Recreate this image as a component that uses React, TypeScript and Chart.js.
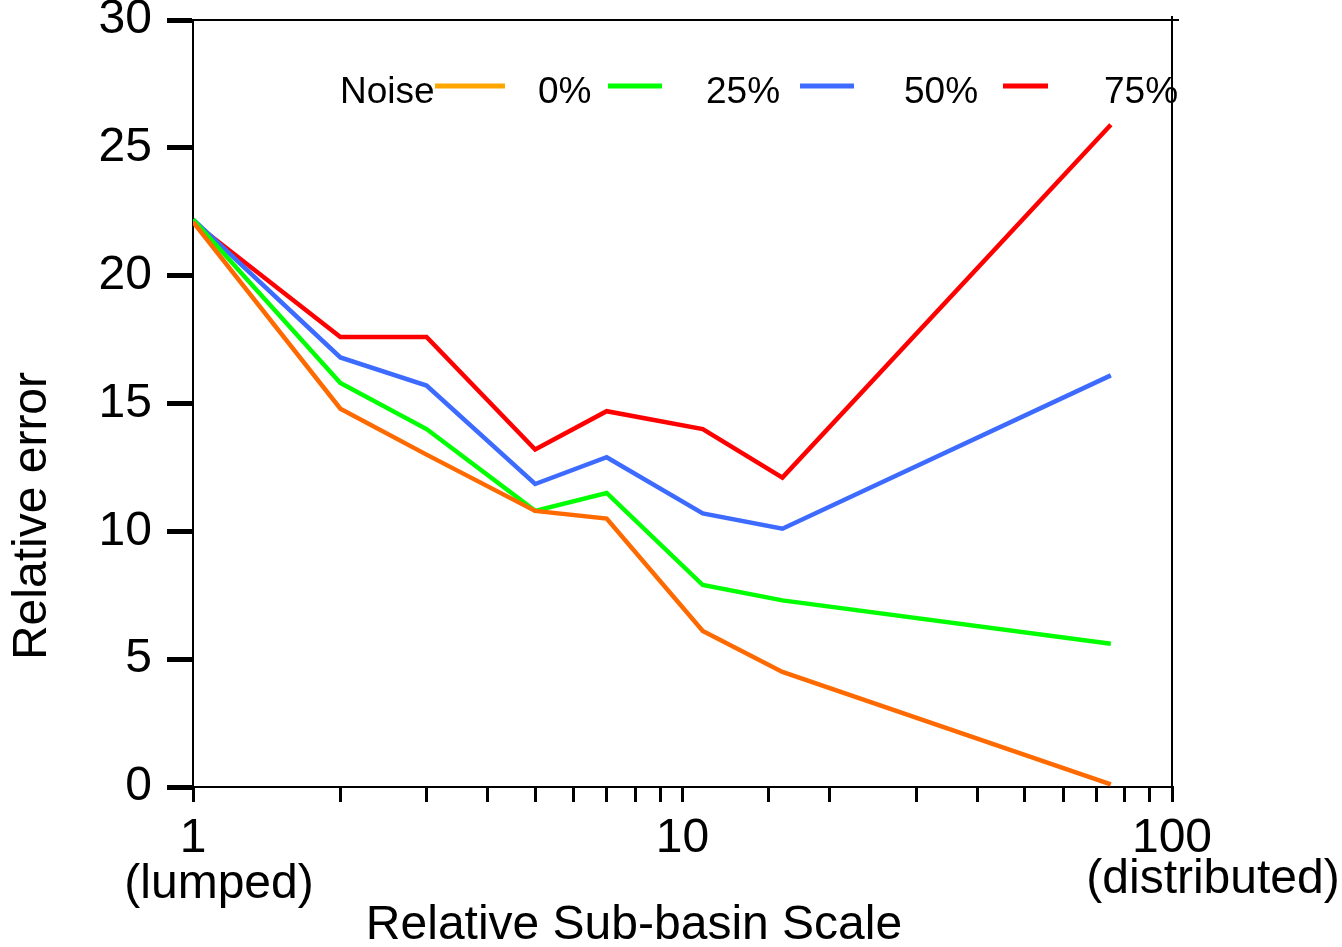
import React, { useEffect, useRef } from "react";
import { Chart, registerables } from "chart.js";

Chart.register(...registerables);

// ---- data ----
const scales = [1, 2, 3, 5, 7, 11, 16, 75];
const noise0 = [22.1, 14.8, 13.0, 10.8, 10.5, 6.1, 4.5, 0.1];
const noise25 = [22.2, 15.8, 14.0, 10.8, 11.5, 7.9, 7.3, 5.6];
const noise50 = [22.2, 16.8, 15.7, 11.85, 12.9, 10.7, 10.1, 16.1];
const noise75 = [22.1, 17.6, 17.6, 13.2, 14.7, 14.0, 12.1, 25.9];
const seriesLabels = ["0%", "25%", "50%", "75%"];
const xTickLabels: Record<number, string> = { 1: "1", 10: "10", 100: "100" };
const yTicks = [0, 5, 10, 15, 20, 25, 30];

// ---- styles ----
const lineColors = ["#FF6A00", "#00FF00", "#3D6BFF", "#FF0000"];
const legendColors = ["#FFA500", "#00FF00", "#3D6BFF", "#FF0000"];
const FONT = "'Liberation Sans', Arial, Helvetica, sans-serif";
// legend layout: [sampleStart, sampleEnd, textStart]
const legendLayout = [
  [435, 505, 538],
  [608, 662, 706],
  [800, 854, 904],
  [1003, 1048, 1104],
];

const extrasPlugin = {
  id: "extras",
  afterDraw(chart: any) {
    const ctx = chart.ctx;
    const a = chart.chartArea;
    const xs = chart.scales.x;
    ctx.save();
    // frame
    ctx.strokeStyle = "#000";
    ctx.lineWidth = 2;
    ctx.beginPath();
    ctx.moveTo(a.left, a.top);
    ctx.lineTo(a.right + 7, a.top);
    ctx.moveTo(a.right, a.top - 4);
    ctx.lineTo(a.right, a.bottom);
    ctx.stroke();

    ctx.fillStyle = "#000";
    ctx.textBaseline = "middle";
    ctx.textAlign = "center";
    ctx.font = `48px ${FONT}`;
    ctx.fillText("(lumped)", xs.getPixelForValue(1) + 26, a.bottom + 98);
    ctx.fillText("(distributed)", xs.getPixelForValue(100) + 41, a.bottom + 93);
    ctx.fillText("Relative Sub-basin Scale", 634, a.bottom + 139);

    ctx.save();
    ctx.translate(33, 516);
    ctx.rotate(-Math.PI / 2);
    ctx.fillText("Relative error", 0, 0);
    ctx.restore();

    // legend
    ctx.font = `37px ${FONT}`;
    ctx.textAlign = "left";
    ctx.fillText("Noise", 340, 93);
    chart.data.datasets.forEach((ds: any, i: number) => {
      const [s0, s1, t] = legendLayout[i];
      ctx.strokeStyle = legendColors[i];
      ctx.lineWidth = 5;
      ctx.beginPath();
      ctx.moveTo(s0, 86);
      ctx.lineTo(s1, 86);
      ctx.stroke();
      ctx.fillStyle = "#000";
      ctx.fillText(ds.label, t, 93);
    });
    ctx.restore();
  },
};

export default function App() {
  const ref = useRef<HTMLCanvasElement>(null);
  useEffect(() => {
    document.body.style.margin = "0";
    const series = [noise0, noise25, noise50, noise75];
    const chart = new Chart(ref.current!, {
      type: "line",
      data: {
        datasets: series.map((vals, i) => ({
          label: seriesLabels[i],
          data: scales.map((x, j) => ({ x, y: vals[j] })),
          borderColor: lineColors[i],
          backgroundColor: lineColors[i],
          borderWidth: 4.5,
          pointRadius: 0,
          tension: 0,
          fill: false,
        })),
      },
      options: {
        animation: false,
        responsive: false,
        maintainAspectRatio: false,
        layout: { padding: { left: 0, top: 20, right: 170, bottom: 0 } },
        plugins: { legend: { display: false }, tooltip: { enabled: false } },
        scales: {
          x: {
            type: "logarithmic",
            min: 1,
            max: 100,
            afterFit(scale: any) {
              scale.height = 160;
              scale.paddingLeft = 0;
              scale.paddingRight = 0;
            },
            grid: {
              drawOnChartArea: false,
              drawTicks: true,
              tickLength: 15,
              lineWidth: 3,
              tickWidth: 3,
              color: "#000",
              tickColor: "#000",
            },
            border: { display: true, color: "#000", width: 2 },
            ticks: {
              autoSkip: false,
              maxRotation: 0,
              padding: 8,
              color: "#000",
              font: { family: FONT, size: 48 },
              callback: (v: any) => xTickLabels[Number(v)] ?? "",
            },
          },
          y: {
            type: "linear",
            min: 0,
            max: 30,
            afterFit(scale: any) {
              scale.width = 193;
              scale.paddingTop = 0;
              scale.paddingBottom = 0;
            },
            afterBuildTicks(scale: any) {
              scale.ticks = yTicks.map((v) => ({ value: v }));
            },
            grid: {
              drawOnChartArea: false,
              drawTicks: true,
              tickLength: 26,
              lineWidth: 5,
              tickWidth: 5,
              color: "#000",
              tickColor: "#000",
            },
            border: { display: true, color: "#000", width: 2 },
            ticks: {
              padding: 15,
              color: "#000",
              font: { family: FONT, size: 48 },
            },
          },
        },
      },
      plugins: [extrasPlugin],
    } as any);
    return () => chart.destroy();
  }, []);
  return (
    <div style={{ position: "relative", width: 1342, height: 947 }}>
      <canvas ref={ref} width={1342} height={947} style={{ width: 1342, height: 947 }} />
    </div>
  );
}
